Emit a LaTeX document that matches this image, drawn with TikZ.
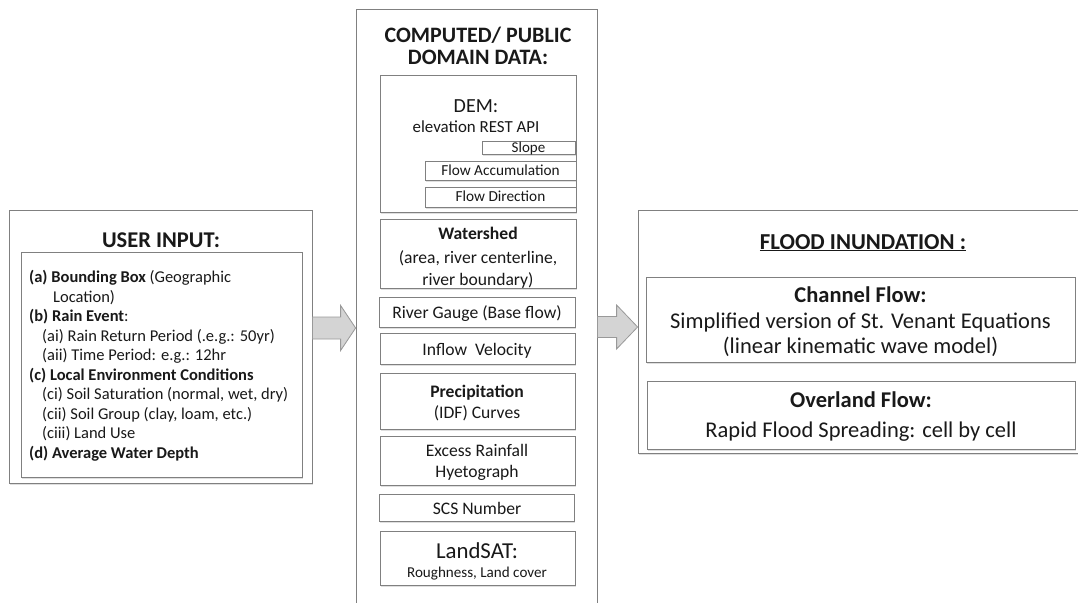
\documentclass[tikz,border=0pt]{standalone}
\usepackage{fontspec}
\setmainfont{Carlito}
\usetikzlibrary{fit,calc,shadows}
\newcommand\fsz[1]{\fontsize{#1}{#1}\selectfont}

\begin{document}
\begin{tikzpicture}[x=1pt,y=-1pt,
    panel/.style={draw=black!50, line width=0.8pt, fill=white, inner sep=0pt,
      drop shadow={opacity=0.25, shadow xshift=1pt, shadow yshift=-1.5pt}},
    lbl/.style={inner sep=0pt, text=black!90},
    bigarrow/.style={draw=black!40, line width=0.8pt, fill=black!17}]
    \useasboundingbox (0,0) rectangle (1078,602);
    \clip (0,0) rectangle (1078,602);
    % panels
    \node [panel, fit={(9,210) (312,483)}] (user) {};
    \node [panel, fit={(21,252) (302,477)}] (userlist) {};
    \node [panel, fit={(356,9) (597,640)}] (data) {};
    \node [panel, fit={(638,210) (1100,453)}] (flood) {};
    % user input
    \node [lbl, anchor=base] (usertitle) at (161,247) {\fsz{22.5}\bfseries USER INPUT:};
    \node [lbl, anchor=base west] (ia) at (29,282.5) {\fsz{16.5}\textbf{(a) Bounding Box} (Geographic};
    \node [lbl, anchor=base west] (ia2) at (53,302) {\fsz{16.5}Location)};
    \node [lbl, anchor=base west] (ib) at (29,321.5) {\fsz{16.5}\textbf{(b) Rain Event}:};
    \node [lbl, anchor=base west] (iba) at (42,341) {\fsz{16.5}(ai) Rain Return Period (.e.g.: 50yr)};
    \node [lbl, anchor=base west] (ibb) at (42,360.5) {\fsz{16.5}(aii) Time Period: e.g.: 12hr};
    \node [lbl, anchor=base west] (ic) at (29,380) {\fsz{16.5}\textbf{(c) Local Environment Conditions}};
    \node [lbl, anchor=base west] (ica) at (42,399.5) {\fsz{16.5}(ci) Soil Saturation (normal, wet, dry)};
    \node [lbl, anchor=base west] (icb) at (42,419) {\fsz{16.5}(cii) Soil Group (clay, loam, etc.)};
    \node [lbl, anchor=base west] (icc) at (42,438.5) {\fsz{16.5}(ciii) Land Use};
    \node [lbl, anchor=base west] (id) at (29,458) {\fsz{16.5}\textbf{(d) Average Water Depth}};
    % computed / public domain data
    \node [lbl, anchor=base] (datatitle) at (478,43) {\fsz{22}\bfseries COMPUTED/ PUBLIC};
    \node [lbl, anchor=base] (datatitle2) at (478,65) {\fsz{22}\bfseries DOMAIN DATA:};
    \node [panel, fit={(380,75) (576,212)}] (dem) {};
    \node [lbl, anchor=base] (demtitle) at (476,112) {\fsz{20}DEM:};
    \node [lbl, anchor=base] (demapi) at (476,132) {\fsz{16.9}elevation REST API};
    \node [panel, fit={(482,141) (575,154)}] (slope) {};
    \node [lbl, anchor=base] (slopetxt) at (528.5,152) {\fsz{15}Slope};
    \node [panel, fit={(425,161) (576,180)}] (flowacc) {};
    \node [lbl, anchor=base] (flowacctxt) at (500.5,175.5) {\fsz{15.3}Flow Accumulation};
    \node [panel, fit={(425,187) (576,207)}] (flowdir) {};
    \node [lbl, anchor=base] (flowdirtxt) at (500.5,201.5) {\fsz{15.3}Flow Direction};
    \node [panel, fit={(380,219) (576,288)}] (shed) {};
    \node [lbl, anchor=base] (shedtxt) at (478,239) {\fsz{17.6}\bfseries Watershed};
    \node [lbl, anchor=base] (shedtxt2) at (478,263) {\fsz{17.6}(area, river centerline,};
    \node [lbl, anchor=base] (shedtxt3) at (478,285) {\fsz{17.6}river boundary)};
    \node [panel, fit={(379,297) (575,327)}] (gauge) {};
    \node [lbl, anchor=base] (gaugetxt) at (477,318.5) {\fsz{17.6}River Gauge (Base flow)};
    \node [panel, fit={(380,333) (575,364)}] (inflow) {};
    \node [lbl, anchor=base] (inflowtxt) at (477,355.5) {\fsz{17.6}Inflow\ \ Velocity};
    \node [panel, fit={(380,373) (575,429)}] (precip) {};
    \node [lbl, anchor=base] (preciptxt) at (477,397) {\fsz{17.6}\bfseries Precipitation};
    \node [lbl, anchor=base] (preciptxt2) at (477,418.5) {\fsz{17.6}(IDF) Curves};
    \node [panel, fit={(380,436) (575,485)}] (excess) {};
    \node [lbl, anchor=base] (excesstxt) at (477,456.5) {\fsz{17.6}Excess Rainfall};
    \node [lbl, anchor=base] (excesstxt2) at (477,477.5) {\fsz{17.6}Hyetograph};
    \node [panel, fit={(379,494) (574,521)}] (scs) {};
    \node [lbl, anchor=base] (scstxt) at (477,514) {\fsz{17.6}SCS Number};
    \node [panel, fit={(380,531) (575,585)}] (landsat) {};
    \node [lbl, anchor=base] (landsattxt) at (477,558) {\fsz{22.8}LandSAT:};
    \node [lbl, anchor=base] (landsattxt2) at (477,577.5) {\fsz{15.1}Roughness, Land cover};
    % flood inundation
    \node [lbl, anchor=base] (floodtitle) at (863,249) {\fsz{22.8}\bfseries\underline{FLOOD INUNDATION :}};
    \node [panel, fit={(646,277) (1075,362)}] (channel) {};
    \node [lbl, anchor=base] (channeltxt) at (860.5,302) {\fsz{22.5}\bfseries Channel Flow:};
    \node [lbl, anchor=base] (channeltxt2) at (860.5,328) {\fsz{22.5}Simplified version of St. Venant Equations};
    \node [lbl, anchor=base] (channeltxt3) at (860.5,353) {\fsz{22.5}(linear kinematic wave model)};
    \node [panel, fit={(647,381) (1075,449)}] (overland) {};
    \node [lbl, anchor=base] (overlandtxt) at (861,407) {\fsz{22.5}\bfseries Overland Flow:};
    \node [lbl, anchor=base] (overlandtxt2) at (861,437) {\fsz{22.5}Rapid Flood Spreading: cell by cell};
    % block arrows between panels
    \coordinate (la) at (user.east |- 0,328);
    \coordinate (lb) at (data.west |- 0,328);
    \draw [bigarrow] ($(la)+(0,-11)$) -- ($(lb)+(-15,-11)$) -- ($(lb)+(-15,-22.5)$) -- (lb)
      -- ($(lb)+(-15,22.5)$) -- ($(lb)+(-15,11)$) -- ($(la)+(0,11)$) -- cycle;
    \coordinate (ra) at (data.east |- 0,327);
    \coordinate (rb) at (flood.west |- 0,327);
    \draw [bigarrow] ($(ra)+(0,-10.5)$) -- ($(rb)+(-21,-10.5)$) -- ($(rb)+(-21,-22)$) -- (rb)
      -- ($(rb)+(-21,22)$) -- ($(rb)+(-21,10.5)$) -- ($(ra)+(0,10.5)$) -- cycle;
\end{tikzpicture}
\end{document}
